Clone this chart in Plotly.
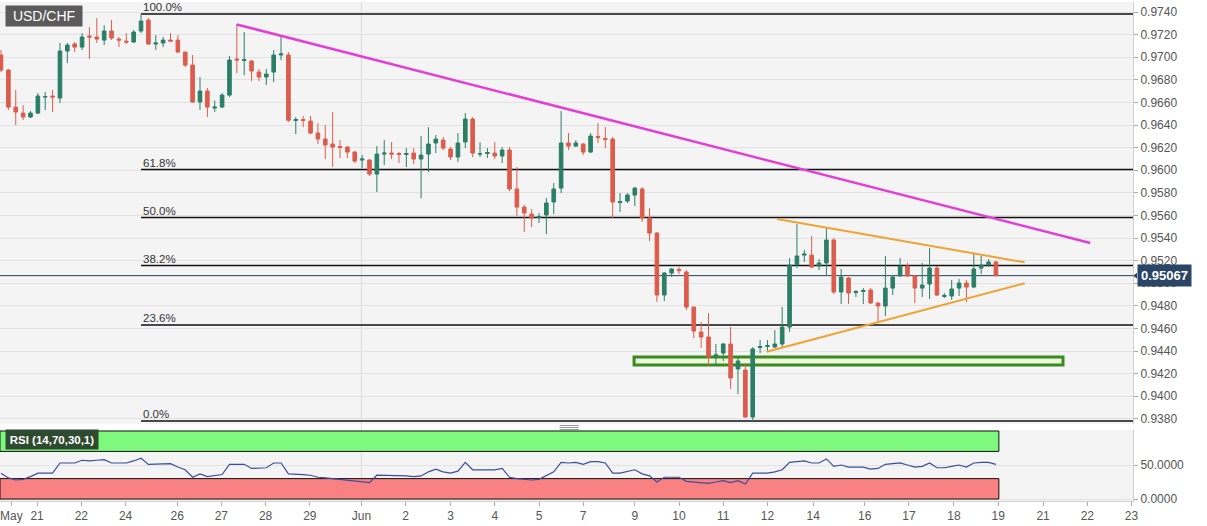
import plotly.graph_objects as go

# ---------------- data (4h candles, USD/CHF) ----------------
opens = [0.97020,0.96887,0.96559,0.96506,0.96471,0.96506,0.96648,0.96657,0.96639,0.97055,
         0.97117,0.97090,0.97188,0.97179,0.97152,0.97232,0.97161,0.97143,0.97135,0.97232,
         0.97329,0.97117,0.97126,0.97152,0.97152,0.97046,0.96931,0.96604,0.96701,0.96550,
         0.96559,0.96665,0.96984,0.96971,0.96966,0.96869,0.96825,0.96869,0.97020,0.97020,
         0.96440,0.96449,0.96435,0.96329,0.96276,0.96232,0.96210,0.96205,0.96161,0.96090,
         0.96090,0.95966,0.96143,0.96152,0.96148,0.96139,0.96152,0.96099,0.96143,0.96241,
         0.96267,0.96188,0.96117,0.96250,0.96453,0.96143,0.96148,0.96152,0.96126,0.96179,
         0.95834,0.95674,0.95612,0.95581,0.95604,0.95719,0.95842,0.96241,0.96214,0.96232,
         0.96161,0.96298,0.96281,0.96276,0.95714,0.95727,0.95780,0.95834,0.95577,0.95444,
         0.94896,0.95090,0.95121,0.95099,0.94789,0.94568,0.94524,0.94356,0.94382,0.94462,
         0.94241,0.94232,0.93816,0.94431,0.94440,0.94435,0.94462,0.94612,0.95161,0.95249,
         0.95249,0.95152,0.95179,0.95382,0.94922,0.95046,0.94918,0.94927,0.94940,0.94825,
         0.94798,0.94957,0.95064,0.95152,0.95064,0.94957,0.94993,0.95134,0.94883,0.94887,
         0.94957,0.95002,0.94966,0.95134,0.95161,0.95188]
highs = [0.97064,0.96896,0.96710,0.96577,0.96524,0.96683,0.96692,0.96710,0.97126,0.97126,
         0.97135,0.97214,0.97267,0.97347,0.97284,0.97329,0.97179,0.97214,0.97241,0.97382,
         0.97347,0.97196,0.97179,0.97214,0.97196,0.97046,0.97020,0.96825,0.96728,0.96618,
         0.96683,0.97011,0.97294,0.97223,0.96975,0.96896,0.96896,0.97064,0.97196,0.97046,
         0.96471,0.96480,0.96480,0.96417,0.96400,0.96515,0.96267,0.96214,0.96170,0.96134,
         0.96099,0.96214,0.96267,0.96250,0.96161,0.96196,0.96196,0.96303,0.96382,0.96312,
         0.96294,0.96205,0.96329,0.96506,0.96471,0.96247,0.96196,0.96250,0.96205,0.96205,
         0.96028,0.95692,0.95657,0.95621,0.95754,0.95887,0.96524,0.96329,0.96267,0.96241,
         0.96329,0.96418,0.96382,0.96294,0.95798,0.95798,0.95851,0.95851,0.95665,0.95453,
         0.95099,0.95134,0.95143,0.95117,0.94789,0.94657,0.94736,0.94462,0.94471,0.94612,
         0.94347,0.94294,0.94435,0.94497,0.94497,0.94586,0.94789,0.95223,0.95524,0.95294,
         0.95418,0.95214,0.95497,0.95400,0.95126,0.95055,0.94940,0.94957,0.94957,0.94834,
         0.95241,0.95073,0.95223,0.95179,0.95073,0.95179,0.95311,0.95152,0.94913,0.95028,
         0.95037,0.95028,0.95267,0.95241,0.95214,0.95197]
lows = [0.96869,0.96533,0.96400,0.96444,0.96462,0.96497,0.96533,0.96515,0.96595,0.96949,
        0.97046,0.97064,0.96984,0.97126,0.97108,0.97152,0.97090,0.97117,0.97126,0.97214,
        0.97108,0.97064,0.97090,0.97139,0.97037,0.96913,0.96595,0.96533,0.96471,0.96515,
        0.96550,0.96648,0.96860,0.96842,0.96789,0.96789,0.96754,0.96780,0.96975,0.96427,
        0.96320,0.96382,0.96320,0.96232,0.96099,0.96028,0.96108,0.96108,0.96064,0.96020,
        0.95949,0.95807,0.96046,0.96099,0.96064,0.96028,0.96055,0.95751,0.95984,0.96152,
        0.96179,0.96090,0.96073,0.96196,0.96117,0.96117,0.96108,0.96099,0.96064,0.95816,
        0.95595,0.95453,0.95497,0.95533,0.95435,0.95612,0.95798,0.96179,0.96205,0.96134,
        0.96152,0.96241,0.96196,0.95577,0.95630,0.95710,0.95683,0.95542,0.95373,0.94834,
        0.94842,0.95055,0.95081,0.94763,0.94515,0.94427,0.94267,0.94267,0.94311,0.94064,
        0.94019,0.93807,0.93780,0.94382,0.94400,0.94426,0.94435,0.94568,0.95134,0.95188,
        0.95134,0.95117,0.95073,0.94904,0.94816,0.94816,0.94878,0.94816,0.94816,0.94648,
        0.94710,0.94896,0.95055,0.95055,0.94825,0.94878,0.94860,0.94887,0.94869,0.94851,
        0.94887,0.94834,0.94957,0.95081,0.95143,0.95060]
closes = [0.96887,0.96559,0.96515,0.96471,0.96506,0.96657,0.96652,0.96648,0.97055,0.97108,
          0.97090,0.97179,0.97179,0.97161,0.97232,0.97170,0.97152,0.97135,0.97223,0.97320,
          0.97117,0.97126,0.97152,0.97143,0.97046,0.96931,0.96604,0.96701,0.96559,0.96559,
          0.96665,0.96975,0.96975,0.96980,0.96878,0.96825,0.96851,0.97020,0.97029,0.96442,
          0.96449,0.96440,0.96329,0.96276,0.96223,0.96205,0.96201,0.96161,0.96081,0.96099,
          0.95966,0.96143,0.96152,0.96143,0.96139,0.96148,0.96099,0.96134,0.96232,0.96276,
          0.96196,0.96117,0.96241,0.96453,0.96152,0.96145,0.96157,0.96126,0.96179,0.95834,
          0.95674,0.95621,0.95577,0.95590,0.95710,0.95834,0.96241,0.96214,0.96241,0.96161,
          0.96303,0.96289,0.96272,0.95719,0.95723,0.95780,0.95842,0.95577,0.95444,0.94896,
          0.95090,0.95126,0.95112,0.94789,0.94577,0.94524,0.94347,0.94365,0.94462,0.94161,
          0.94311,0.93816,0.94418,0.94440,0.94449,0.94462,0.94612,0.95161,0.95241,0.95258,
          0.95143,0.95179,0.95382,0.94922,0.95055,0.94913,0.94927,0.94936,0.94825,0.94798,
          0.94957,0.95055,0.95152,0.95064,0.94957,0.94984,0.95134,0.94896,0.94892,0.94949,
          0.95002,0.94966,0.95126,0.95161,0.95188,0.95067]
rsi = [38,31,28,29,33,38,38,38,53,53,53,57,56,57,58,53,53,53,56,60,
       51,51,52,52,47,43,32,37,33,35,36,51,51,51,45,45,46,53,53,37,
       37,36,35,32,31,30,29,28,27,26,24,35,35,35,35,34,33,34,40,44,
       40,38,41,54,43,43,42,43,45,32,30,29,28,29,35,40,54,53,54,51,
       55,55,53,38,38,40,43,37,34,25,32,32,32,26,25,25,23,25,27,24,
       27,22,38,38,38,40,43,54,55,56,53,53,59,48,50,47,47,47,44,45,
       51,52,53,50,47,48,53,46,46,48,50,47,53,54,54,51]
bars = list(range(len(opens)))

tick_pos = [1.4, 4.9, 10.9, 16.9, 23.9, 29.9, 35.9, 41.9, 48.9, 54.9, 61.0, 67.0, 73.0,
            79.0, 86.0, 92.0, 98.0, 104.0, 110.2, 117.2, 123.2, 129.3, 135.3, 141.4, 147.4, 153.4]
tick_text = ["May", "21", "22", "24", "26", "27", "28", "29", "Jun", "2", "3", "4", "5",
             "7", "9", "10", "11", "12", "14", "16", "17", "18", "19", "21", "22", "23"]
price_ticks = [0.9380, 0.9400, 0.9420, 0.9440, 0.9460, 0.9480, 0.9500, 0.9520, 0.9540,
               0.9560, 0.9580, 0.9600, 0.9620, 0.9640, 0.9660, 0.9680, 0.9700, 0.9720, 0.9740]
fib_ratios = [1.0, 0.618, 0.5, 0.382, 0.236, 0.0]
fib_labels = ["100.0%", "61.8%", "50.0%", "38.2%", "23.6%", "0.0%"]
last_price = 0.95067

# drawn tools (bar index, price)
pink_line = [(32.0, 0.97290), (147.8, 0.95356)]
tri_upper = [(105.3, 0.95568), (138.9, 0.95185)]
tri_lower = [(103.9, 0.94393), (138.9, 0.95000)]
support_zone = [(85.9, 0.94276), (144.1, 0.94347)]
rsi_over = [70, 100]
rsi_under = [0, 30]
jun_bar = 48.9

# ---------------- figure ----------------
GREEN = "#2b7f66"
RED = "#dc5c4c"
FONT = "Arial, 'Liberation Sans', sans-serif"
XMIN, XMAX = -0.136, 153.6

fig = go.Figure()
fig.add_trace(go.Candlestick(
    x=bars, open=opens, high=highs, low=lows, close=closes,
    increasing=dict(line=dict(color=GREEN, width=1), fillcolor=GREEN),
    decreasing=dict(line=dict(color=RED, width=1), fillcolor=RED),
    whiskerwidth=0, showlegend=False, hoverinfo="skip", xaxis="x", yaxis="y"))
fig.add_trace(go.Scatter(
    x=bars, y=rsi, mode="lines", line=dict(color="#3d4d9e", width=1.2),
    showlegend=False, hoverinfo="skip", xaxis="x2", yaxis="y2"))

shapes = []
fib_hi = max(highs)
fib_lo = min(lows)
fib_start = highs.index(fib_hi)
annotations = []
for r, lab in zip(fib_ratios, fib_labels):
    lvl = fib_lo + r * (fib_hi - fib_lo)
    shapes.append(dict(type="line", xref="x", yref="y", x0=fib_start, x1=XMAX, y0=lvl, y1=lvl,
                       line=dict(color="#111111", width=1.5), layer="between"))
    annotations.append(dict(x=fib_start, y=lvl, xref="x", yref="y", text=lab, showarrow=False,
                            xanchor="left", yanchor="bottom", yshift=-1,
                            font=dict(family=FONT, size=11.5, color="#333333")))

# month separator
shapes.append(dict(type="line", xref="x", yref="paper", x0=jun_bar, x1=jun_bar, y0=0, y1=1,
                   line=dict(color="#dadada", width=1), layer="between"))
# support zone
shapes.append(dict(type="rect", xref="x", yref="y", x0=support_zone[0][0], x1=support_zone[1][0],
                   y0=support_zone[0][1], y1=support_zone[1][1],
                   line=dict(color="#3a8a1e", width=3), fillcolor="#eef6dc", layer="between"))
# last price line
shapes.append(dict(type="line", xref="x", yref="y", x0=XMIN, x1=XMAX, y0=last_price, y1=last_price,
                   line=dict(color="#23405e", width=1), layer="between"))
# trend lines
for pts, col, w in [(pink_line, "#e23fd8", 2.5), (tri_upper, "#f0a232", 2), (tri_lower, "#f0a232", 2)]:
    shapes.append(dict(type="line", xref="x", yref="y", x0=pts[0][0], y0=pts[0][1],
                       x1=pts[1][0], y1=pts[1][1], line=dict(color=col, width=w), layer="above"))
# RSI bands
shapes.append(dict(type="rect", xref="x2", yref="y2", x0=XMIN, x1=bars[-1] + 0.4,
                   y0=rsi_over[0], y1=rsi_over[1], fillcolor="#7ef97e",
                   line=dict(color="#111111", width=1), layer="between"))
shapes.append(dict(type="rect", xref="x2", yref="y2", x0=XMIN, x1=bars[-1] + 0.4,
                   y0=rsi_under[0], y1=rsi_under[1], fillcolor="#f98181",
                   line=dict(color="#111111", width=1), layer="between"))
# pane resize handle
for yy in [0.1513, 0.1473, 0.1433]:
    shapes.append(dict(type="line", xref="x", yref="paper", x0=75.8, x1=78.4, y0=yy, y1=yy,
                       line=dict(color="#9a9a9a", width=1)))
# little pointer of the last-price tag
shapes.append(dict(type="path", xref="paper", yref="y", xsizemode="pixel", xanchor=1.0,
                   path="M 0,%f L 4,%f L 4,%f Z" % (last_price, last_price + 0.00025, last_price - 0.00025),
                   fillcolor="#2b4566", line=dict(width=0), layer="above"))

annotations.append(dict(xref="paper", yref="paper", x=0.004, y=0.994, xanchor="left", yanchor="top",
                        text="USD/CHF", showarrow=False, bgcolor="#5b5b5b", width=72, height=16,
                        borderpad=2, font=dict(family=FONT, size=14, color="white")))
annotations.append(dict(xref="paper", yref="y2", x=0.004, y=88, xanchor="left", yanchor="middle",
                        text="<b>RSI (14,70,30,1)</b>", showarrow=False, bgcolor="#2e4a30", width=88, height=15,
                        borderpad=2, font=dict(family=FONT, size=11.5, color="white")))
annotations.append(dict(xref="paper", yref="y", x=1, y=last_price, xanchor="left", yanchor="middle",
                        xshift=4, text="<b>0.95067</b>", showarrow=False, bgcolor="#2b4566",
                        borderpad=3, font=dict(family=FONT, size=13, color="white")))

fig.update_layout(
    width=1207, height=526,
    margin=dict(l=0, r=74, t=2, b=25, autoexpand=False),
    paper_bgcolor="white", plot_bgcolor="#f4f4f4",
    font=dict(family=FONT, size=12, color="#555555"),
    showlegend=False,
    shapes=shapes, annotations=annotations,
    xaxis=dict(domain=[0, 1], anchor="y", range=[XMIN, XMAX], showticklabels=False,
               showgrid=False, zeroline=False, rangeslider=dict(visible=False), fixedrange=True),
    yaxis=dict(domain=[0.1543, 1], anchor="x", side="right", range=[0.93754, 0.97489],
               tickvals=price_ticks, tickformat=".4f", gridcolor="#e2e2e2", zeroline=False,
               ticks="outside", ticklen=4, tickcolor="#aaaaaa", showline=True, linecolor="#d0d0d0",
               tickfont=dict(size=12, color="#555555")),
    xaxis2=dict(domain=[0, 1], anchor="y2", range=[XMIN, XMAX], tickvals=tick_pos, ticktext=tick_text,
                ticks="outside", ticklen=4, tickcolor="#aaaaaa", showgrid=False, zeroline=False,
                showline=True, linecolor="#d0d0d0", tickfont=dict(size=12, color="#555555"),
                ticklabeloverflow="allow"),
    yaxis2=dict(domain=[0, 0.1423], anchor="x2", side="right", range=[-2.9, 101.5],
                tickvals=[0, 50], ticktext=["0.0000", "50.0000"], gridcolor="#e2e2e2", zeroline=False,
                ticks="outside", ticklen=4, tickcolor="#aaaaaa", showline=True, linecolor="#d0d0d0",
                tickfont=dict(size=12, color="#555555")),
)

fig.write_html("out.html", config={"displayModeBar": False},
               post_script="document.body.style.margin='0';document.body.style.overflow='hidden';")
